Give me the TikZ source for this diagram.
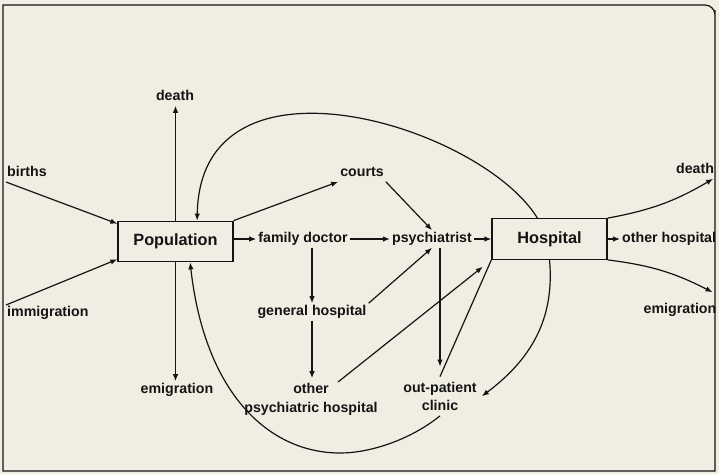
\documentclass[tikz,border=0pt]{standalone}
\usepackage{fontspec}
\setmainfont{Liberation Sans}
\usepackage{tikz}
\usetikzlibrary{arrows.meta}
\definecolor{paper}{RGB}{240, 237, 226}
\definecolor{ink}{RGB}{20, 20, 20}
\tikzstyle{box}=[rectangle,draw=ink,line width=1.3pt,fill=paper,
  minimum width=115pt,minimum height=40.5pt,inner sep=0pt,
  font=\fontsize{16.3}{18}\selectfont\bfseries,text=ink]
\tikzstyle{lbl}=[inner sep=2pt,text height=10.3pt,text depth=2.9pt,
  font=\fontsize{14.2}{17}\selectfont\bfseries,text=ink]
\tikzstyle{lbltwo}=[inner sep=5pt,align=center,
  font=\fontsize{14.2}{18.5}\selectfont\bfseries,text=ink]
\tikzstyle{ln}=[draw=ink,line width=1.2pt]
\tikzstyle{arr}=[draw=ink,line width=1.2pt,-{Latex[length=7pt,width=5.5pt]}]
\tikzstyle{none}=[]

\begin{document}
\begin{tikzpicture}[x=1pt,y=-1pt]
            \fill [paper] (0,0) rectangle (719,474);
            \draw [ink, line width=1.2pt] (3,471) -- (3,5) -- (700,5)
                [rounded corners=10pt] -- (715,5) -- (715,20)
                [sharp corners] -- (715,471) -- cycle;
            \node [style=box] (0) at (175.5,241.5) {Population};
            \node [style=box] (1) at (549.5,239) {Hospital};
            \node [style=lbl] (2) at (175,97) {death};
            \node [style=lbl, anchor=west] (3) at (5,173) {births};
            \node [style=lbl, anchor=west] (4) at (5,313) {immigration};
            \node [style=lbl] (5) at (177,390) {emigration};
            \node [style=lbl] (6) at (362,173) {courts};
            \node [style=lbl] (7) at (303,239) {family doctor};
            \node [style=lbl] (8) at (432,239) {psychiatrist};
            \node [style=lbl] (9) at (312,312) {general hospital};
            \node [style=lbltwo] (10) at (311,399.3) {other\\psychiatric hospital};
            \node [style=lbltwo] (11) at (440,396.2) {out-patient\\clinic};
            \node [style=lbl] (12) at (695,170) {death};
            \node [style=lbl, anchor=west] (13) at (620,239) {other hospital};
            \node [style=lbl] (14) at (680,310) {emigration};
            \coordinate (15) at (6,182);
            \coordinate (16) at (6,305);
            \coordinate (17) at (338,382);
            \draw [style=arr] (15) to (0.163);
            \draw [style=arr] (16) to (0.197);
            \draw [style=arr] (0.north) to (0.north |- 2.south);
            \draw [style=arr] (0.south) to (0.south |- 5.north);
            \draw [style=arr] (0.north east) to (6.south west);
            \draw [style=arr] (0.east |- 7.west) to (7.west);
            \draw [style=arr] (7.east) to (8.west);
            \draw [style=arr] (8.east) to (1.west);
            \draw [style=arr] (6.south east) to (8.north);
            \draw [style=arr] (7.south -| 9.north) to (9.north);
            \draw [style=arr] (9.south) to (9.south |- 10.north);
            \draw [style=arr] (9.north east) to (8.south);
            \draw [style=arr, shorten >=10pt] (8.south -| 11.north) to (11.north);
            \draw [style=ln] (11.north) to (1.south west);
            \draw [style=arr, shorten >=11pt] (17) to (1.south west);
            \draw [style=arr] (1.120) .. controls (480,125) and (200,40) .. (0.44);
            \draw [style=arr] (1.south) .. controls (555,320) and (530,360) .. (11.east);
            \draw [style=arr] (11.south) .. controls (410,440) and (370,453) .. (340,453)
                .. controls (270,453) and (205,395) .. (0.-55);
            \draw [style=arr, bend right=10] (1.north east) to ([xshift=-3pt]12.south east);
            \draw [style=arr] (1.east) to (13.west);
            \draw [style=arr, bend left=10] (1.south east) to ([xshift=-6pt,yshift=9pt]14.north east);
    \end{tikzpicture}
\end{document}
